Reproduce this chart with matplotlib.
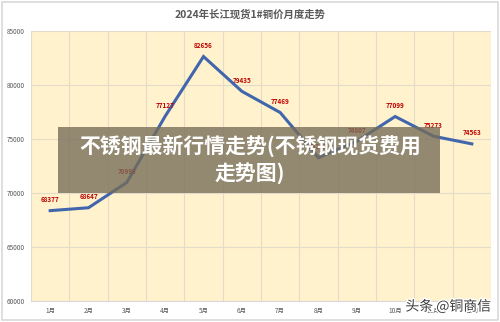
import matplotlib.pyplot as plt
import matplotlib.patheffects as pe
from matplotlib.patches import Rectangle

plt.rcParams['font.family'] = ['Noto Sans CJK SC', 'DejaVu Sans']

months = ['1月', '2月', '3月', '4月', '5月', '6月', '7月', '8月', '9月', '10月', '11月', '12月']
prices = [68377, 68647, 70993, 77127, 82656, 79435, 77469, 73283, 74807, 77099, 75273, 74563]
yticks = [60000, 65000, 70000, 75000, 80000, 85000]

fig = plt.figure(figsize=(5, 3.22), dpi=100)
fig.patch.set_facecolor('white')
fig.patches.append(Rectangle((0.004, 0.006), 0.992, 0.988, transform=fig.transFigure,
                             fill=False, ec='#d9d9d9', lw=1.2))

ax = fig.add_axes([0.062, 0.065, 0.92, 0.838])
ax.set_facecolor('#fff2cc')
x = list(range(len(months)))
ax.plot(x, prices, color='#4166ad', lw=2.2, solid_joinstyle='miter', zorder=3)
for xi, v in zip(x, prices):
    ax.text(xi, v + 700, str(v), ha='center', va='bottom', fontsize=4.6,
            color='#c00000', fontweight='bold', zorder=4)

ax.set_xlim(-0.5, len(months) - 0.5)
ax.set_ylim(60000, 85000)
ax.set_yticks(yticks)
ax.set_yticklabels([str(t) for t in yticks])
ax.set_xticks(x)
ax.set_xticklabels(months)
ax.set_xticks([i - 0.5 for i in range(len(months) + 1)], minor=True)
ax.grid(True, which='minor', axis='x', color='#e3dccb', lw=0.8)
ax.grid(True, which='major', axis='y', color='#e3dccb', lw=0.8)
ax.tick_params(which='both', length=0, labelsize=4.6, colors='#595959', pad=4)
ax.tick_params(axis='y', pad=4.5)
for s in ax.spines.values():
    s.set_visible(False)
ax.spines['bottom'].set_visible(True)
ax.spines['bottom'].set_color('#d9d9d9')
ax.set_axisbelow(True)

fig.text(0.5, 0.955, '2024年长江现货1#铜价月度走势', ha='center', va='center',
         fontsize=7.5, color='#595959', fontweight='bold')

# caption banner across the middle
fig.patches.append(Rectangle((0.116, 0.40), 0.764, 0.205, transform=fig.transFigure,
                             fc='#756c58', alpha=0.78, ec='none', zorder=5))
fig.text(0.5, 0.548, '不锈钢最新行情走势(不锈钢现货费用', ha='center', va='center',
         fontsize=15, color='white', fontweight='bold', zorder=6)
fig.text(0.5, 0.463, '走势图)', ha='center', va='center',
         fontsize=15, color='white', fontweight='bold', zorder=6)

fig.text(0.982, 0.048, '头条 @铜商信', ha='right', va='center', fontsize=10,
         color='#3a3a3a', zorder=6,
         path_effects=[pe.withStroke(linewidth=2, foreground='white')])

fig.savefig('out.png', dpi=100)
